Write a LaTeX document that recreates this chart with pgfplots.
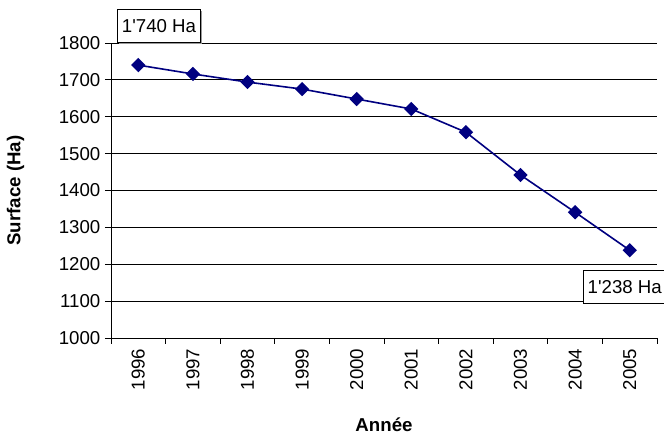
\documentclass[border=0pt]{standalone}
\usepackage{fontspec}
\setmainfont{Liberation Sans}
\usepackage{pgfplots}
\pgfplotsset{compat=1.18}
\usetikzlibrary{shadows}
\definecolor{navy}{RGB}{0,0,128}

\begin{document}
\begin{tikzpicture}
  \begin{axis}[
      name=ax,
      scale only axis,
      width=409.5pt, height=221.25pt,
      xmin=-0.5, xmax=9.5,
      ymin=1000, ymax=1800,
      ytick={1000,1100,...,1800},
      xtick={-0.5,0.5,...,9.5},
      x tick label as interval,
      xticklabels={1996,1997,1998,1999,2000,2001,2002,2003,2004,2005},
      axis x line=bottom, axis y line=left,
      axis line style={-, black, line width=0.6pt},
      tick align=outside,
      major tick length=4.5pt,
      tick style={black, line width=0.6pt},
      ymajorgrids,
      major grid style={black, line width=0.6pt},
      /pgf/number format/1000 sep={},
      /pgf/number format/assume math mode=true,
      ticklabel style={font=\fontsize{14}{16}\selectfont},
      x tick label style={rotate=90, anchor=east},
      xlabel={\textbf{Année}},
      ylabel={\textbf{Surface (Ha)}},
      label style={font=\fontsize{14}{16}\selectfont},
      xlabel style={at={(axis description cs:0.5,-0.294)}, anchor=center},
      ylabel style={at={(axis description cs:-0.175,0.5)}, anchor=center},
      clip=false,
    ]
    \addplot[navy, line width=1.2pt, mark=square*,
      mark size=3.2pt, mark options={rotate=45, solid, fill=navy}]
      coordinates {(0,1740) (1,1716) (2,1694) (3,1675) (4,1648)
                   (5,1621) (6,1558) (7,1442) (8,1341) (9,1238)};
    \node[draw, fill=white, line width=0.6pt, anchor=south west,
      inner xsep=3.4pt, minimum height=24.75pt,
      font=\fontsize{14}{16}\selectfont,
      drop shadow={shadow xshift=1pt, shadow yshift=-1pt, fill=gray!80, opacity=1}]
      at (axis cs:-0.39,1800) {1\textquotesingle 740 Ha};
    \node[draw, fill=white, line width=0.6pt, anchor=north west,
      inner xsep=3.4pt, minimum height=24.75pt,
      font=\fontsize{14}{16}\selectfont,
      drop shadow={shadow xshift=1pt, shadow yshift=-1pt, fill=gray!80, opacity=1}]
      at (axis cs:8.14,1185) {1\textquotesingle 238 Ha};
  \end{axis}
  \pgfresetboundingbox
  \path[use as bounding box] ([shift={(-83.25pt,-72pt)}]ax.south west)
    rectangle ([shift={(5.25pt,32.25pt)}]ax.north east);
\end{tikzpicture}
\end{document}
